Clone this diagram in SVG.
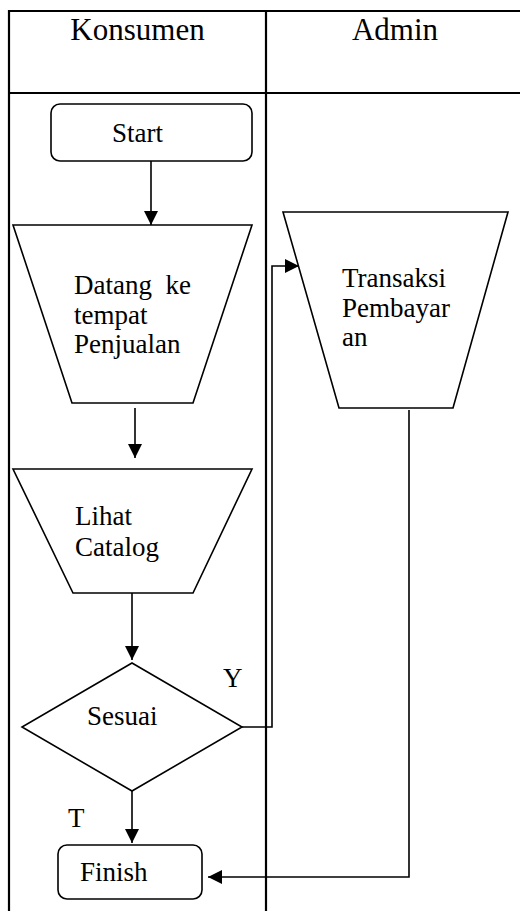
<svg xmlns="http://www.w3.org/2000/svg" width="520" height="911" viewBox="0 0 520 911">
<style>
.grid{stroke:#000;stroke-width:2.2;fill:none}
.shape{stroke:#000;stroke-width:1.6;fill:#fff}
.conn{stroke:#000;stroke-width:1.6;fill:none}
.hdr{font-family:"Liberation Serif","Times New Roman",serif;font-size:31px;fill:#000}
.txt{font-family:"Liberation Serif","Times New Roman",serif;font-size:27px;fill:#000}
</style>
<defs>
<marker id="arr" viewBox="0 0 14 14" refX="14" refY="7" markerWidth="14" markerHeight="14" markerUnits="userSpaceOnUse" orient="auto">
<path d="M0,0 L14,7 L0,14 z" fill="#000"/>
</marker>
</defs>
<rect width="520" height="911" fill="#fff"/>
<g id="lanes">
<line class="grid" x1="9" y1="11" x2="520" y2="11"/>
<line class="grid" x1="9" y1="93" x2="520" y2="93"/>
<line class="grid" x1="9" y1="10" x2="9" y2="911"/>
<line class="grid" x1="266" y1="10" x2="266" y2="911"/>
<text class="hdr" x="137.5" y="40" text-anchor="middle">Konsumen</text>
<text class="hdr" x="395" y="40" text-anchor="middle">Admin</text>
</g>
<g id="connectors">
<line class="conn" x1="151" y1="161" x2="151" y2="225" marker-end="url(#arr)"/>
<line class="conn" x1="135" y1="408" x2="135" y2="458" marker-end="url(#arr)"/>
<line class="conn" x1="132" y1="593" x2="132" y2="660" marker-end="url(#arr)"/>
<line class="conn" x1="132" y1="791" x2="132" y2="843" marker-end="url(#arr)"/>
<polyline class="conn" points="242,727 272,727 272,266 299,266" marker-end="url(#arr)"/>
<polyline class="conn" points="409,410 409,877 208,877" marker-end="url(#arr)"/>
<text class="txt" x="223" y="687">Y</text>
<text class="txt" x="68" y="827">T</text>
</g>
<g id="start">
<rect class="shape" x="51" y="104" width="201" height="57" rx="9"/>
<text class="txt" x="112" y="142">Start</text>
</g>
<g id="datang">
<polygon class="shape" points="13,225 252,225 193,403 72,403"/>
<text class="txt" x="74" y="294" xml:space="preserve">Datang  ke</text>
<text class="txt" x="74" y="324">tempat</text>
<text class="txt" x="74" y="353">Penjualan</text>
</g>
<g id="transaksi">
<polygon class="shape" points="283,212 508,212 453,408 339,408"/>
<text class="txt" x="342" y="287">Transaksi</text>
<text class="txt" x="342" y="317">Pembayar</text>
<text class="txt" x="342" y="346">an</text>
</g>
<g id="lihat">
<polygon class="shape" points="13,469 252,469 193,593 73,593"/>
<text class="txt" x="75" y="525">Lihat</text>
<text class="txt" x="75" y="556">Catalog</text>
</g>
<g id="sesuai">
<polygon class="shape" points="132,663 242,727 132,791 22,727"/>
<text class="txt" x="87" y="725">Sesuai</text>
</g>
<g id="finish">
<rect class="shape" x="58" y="845" width="144" height="54" rx="9"/>
<text class="txt" x="80" y="881">Finish</text>
</g>
</svg>
